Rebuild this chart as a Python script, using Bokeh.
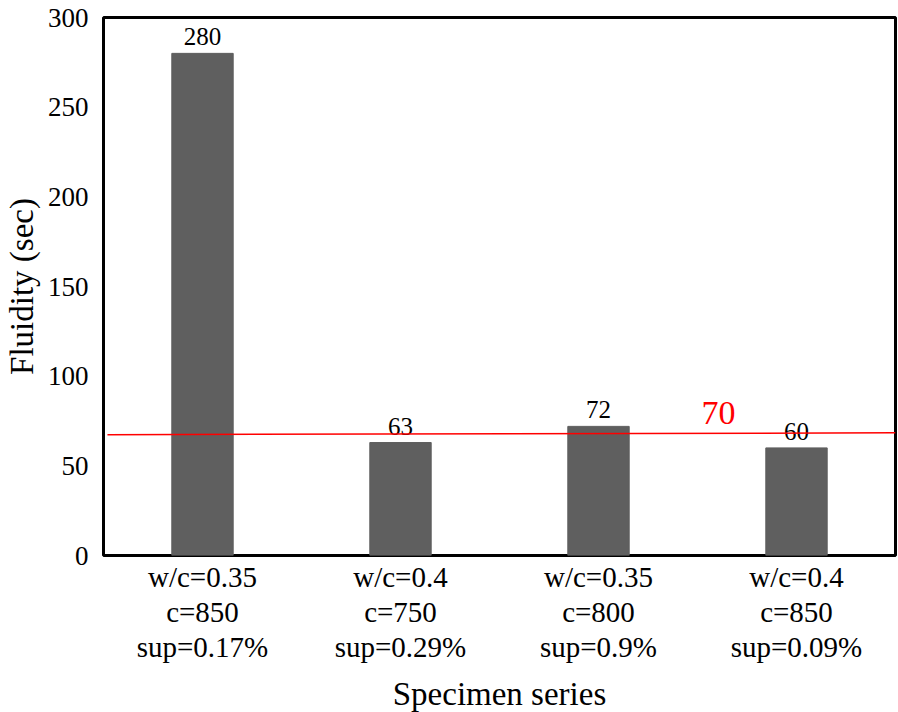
from bokeh.plotting import figure
from bokeh.models import ColumnDataSource, FixedTicker, Range1d
from bokeh.core.properties import value
from bokeh.embed import file_html
from bokeh.resources import INLINE

categories = ["w/c=0.35\nc=850\nsup=0.17%", "w/c=0.4\nc=750\nsup=0.29%",
              "w/c=0.35\nc=800\nsup=0.9%", "w/c=0.4\nc=850\nsup=0.09%"]
fluidity = [280, 63, 72, 60]
ref_line_y = [67.4, 68.4]
ref_label = "70"
y_ticks = [0, 50, 100, 150, 200, 250, 300]

FONT = "Liberation Serif"
xs = list(range(len(categories)))

p = figure(frame_width=792, frame_height=538, output_backend="svg", toolbar_location=None,
           x_range=Range1d(-0.5, len(categories) - 0.5), y_range=Range1d(0, 300),
           min_border_left=95, min_border_right=2, min_border_top=17, min_border_bottom=0)

src = ColumnDataSource(dict(x=xs, top=fluidity, lab=[str(v) for v in fluidity]))
p.vbar(x="x", top="top", width=0.31, bottom=0, source=src,
       fill_color="#5f5f5f", line_color="#5f5f5f")
p.text(x="x", y="top", text="lab", source=src, text_align="center",
       text_baseline="bottom", y_offset=-8, text_font=value(FONT),
       text_font_size="25px", text_color="black")

p.segment(x0=[-0.48], y0=[ref_line_y[0]], x1=[3.5], y1=[ref_line_y[1]],
          line_color="red", line_width=1.5)
p.text(x=[2.606], y=[79.2], text=[ref_label], text_align="center",
       text_baseline="middle", text_font=value(FONT), text_font_size="34px",
       text_color="red")

p.xgrid.visible = False
p.ygrid.visible = False
p.outline_line_color = "black"
p.outline_line_width = 3
p.outline_line_alpha = 1

p.xaxis.ticker = FixedTicker(ticks=xs)
p.xaxis.major_label_overrides = {i: c for i, c in zip(xs, categories)}
p.yaxis.ticker = FixedTicker(ticks=y_ticks)

for ax in (p.xaxis, p.yaxis):
    ax.axis_line_color = None
    ax.major_tick_line_color = None
    ax.minor_tick_line_color = None
    ax.major_tick_out = 0
    ax.major_tick_in = 0
    ax.major_label_text_font = FONT
    ax.major_label_text_color = "black"
    ax.axis_label_text_font = FONT
    ax.axis_label_text_font_style = "normal"
    ax.axis_label_text_color = "black"

p.yaxis.major_label_text_font_size = "27px"
p.xaxis.major_label_text_font_size = "29px"
p.xaxis.major_label_text_line_height = 1.1
p.yaxis.major_label_standoff = 15
p.xaxis.major_label_standoff = 5
p.xaxis.axis_label = "Specimen series"
p.yaxis.axis_label = "Fluidity (sec)"
p.xaxis.axis_label_text_font_size = "33px"
p.yaxis.axis_label_text_font_size = "33px"
p.xaxis.axis_label_standoff = 10
p.yaxis.axis_label_standoff = 5

open("out.html", "w").write(file_html(p, INLINE))
